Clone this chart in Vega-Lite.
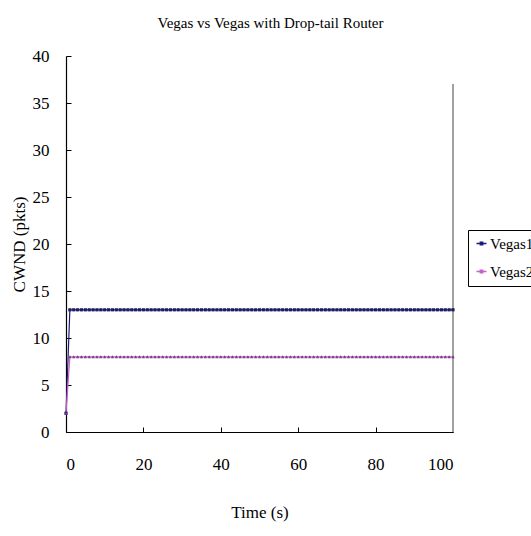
{
  "$schema": "https://vega.github.io/schema/vega-lite/v6.json",
  "width": 387,
  "height": 376,
  "autosize": {"type": "none"},
  "padding": {"left": 66, "top": 56, "right": 78, "bottom": 104},
  "background": "white",
  "config": {
    "font": "Liberation Serif",
    "view": {"stroke": null},
    "axis": {"grid": false, "domainColor": "#000000", "tickColor": "#000000", "labelColor": "#000000", "titleColor": "#000000", "labelFont": "Liberation Serif", "titleFont": "Liberation Serif", "titleFontWeight": "normal", "labelFontSize": 17, "titleFontSize": 17}
  },
  "title": {"text": "Vegas vs Vegas with Drop-tail Router", "font": "Liberation Serif", "fontSize": 15, "fontWeight": "normal", "color": "#000000", "anchor": "middle", "offset": 16, "dx": 11},
  "data": {"values": [
    {"t":0,"Vegas1":2,"Vegas2":2},{"t":1,"Vegas1":13,"Vegas2":8},{"t":2,"Vegas1":13,"Vegas2":8},{"t":3,"Vegas1":13,"Vegas2":8},{"t":4,"Vegas1":13,"Vegas2":8},{"t":5,"Vegas1":13,"Vegas2":8},{"t":6,"Vegas1":13,"Vegas2":8},{"t":7,"Vegas1":13,"Vegas2":8},{"t":8,"Vegas1":13,"Vegas2":8},{"t":9,"Vegas1":13,"Vegas2":8},
    {"t":10,"Vegas1":13,"Vegas2":8},{"t":11,"Vegas1":13,"Vegas2":8},{"t":12,"Vegas1":13,"Vegas2":8},{"t":13,"Vegas1":13,"Vegas2":8},{"t":14,"Vegas1":13,"Vegas2":8},{"t":15,"Vegas1":13,"Vegas2":8},{"t":16,"Vegas1":13,"Vegas2":8},{"t":17,"Vegas1":13,"Vegas2":8},{"t":18,"Vegas1":13,"Vegas2":8},{"t":19,"Vegas1":13,"Vegas2":8},
    {"t":20,"Vegas1":13,"Vegas2":8},{"t":21,"Vegas1":13,"Vegas2":8},{"t":22,"Vegas1":13,"Vegas2":8},{"t":23,"Vegas1":13,"Vegas2":8},{"t":24,"Vegas1":13,"Vegas2":8},{"t":25,"Vegas1":13,"Vegas2":8},{"t":26,"Vegas1":13,"Vegas2":8},{"t":27,"Vegas1":13,"Vegas2":8},{"t":28,"Vegas1":13,"Vegas2":8},{"t":29,"Vegas1":13,"Vegas2":8},
    {"t":30,"Vegas1":13,"Vegas2":8},{"t":31,"Vegas1":13,"Vegas2":8},{"t":32,"Vegas1":13,"Vegas2":8},{"t":33,"Vegas1":13,"Vegas2":8},{"t":34,"Vegas1":13,"Vegas2":8},{"t":35,"Vegas1":13,"Vegas2":8},{"t":36,"Vegas1":13,"Vegas2":8},{"t":37,"Vegas1":13,"Vegas2":8},{"t":38,"Vegas1":13,"Vegas2":8},{"t":39,"Vegas1":13,"Vegas2":8},
    {"t":40,"Vegas1":13,"Vegas2":8},{"t":41,"Vegas1":13,"Vegas2":8},{"t":42,"Vegas1":13,"Vegas2":8},{"t":43,"Vegas1":13,"Vegas2":8},{"t":44,"Vegas1":13,"Vegas2":8},{"t":45,"Vegas1":13,"Vegas2":8},{"t":46,"Vegas1":13,"Vegas2":8},{"t":47,"Vegas1":13,"Vegas2":8},{"t":48,"Vegas1":13,"Vegas2":8},{"t":49,"Vegas1":13,"Vegas2":8},
    {"t":50,"Vegas1":13,"Vegas2":8},{"t":51,"Vegas1":13,"Vegas2":8},{"t":52,"Vegas1":13,"Vegas2":8},{"t":53,"Vegas1":13,"Vegas2":8},{"t":54,"Vegas1":13,"Vegas2":8},{"t":55,"Vegas1":13,"Vegas2":8},{"t":56,"Vegas1":13,"Vegas2":8},{"t":57,"Vegas1":13,"Vegas2":8},{"t":58,"Vegas1":13,"Vegas2":8},{"t":59,"Vegas1":13,"Vegas2":8},
    {"t":60,"Vegas1":13,"Vegas2":8},{"t":61,"Vegas1":13,"Vegas2":8},{"t":62,"Vegas1":13,"Vegas2":8},{"t":63,"Vegas1":13,"Vegas2":8},{"t":64,"Vegas1":13,"Vegas2":8},{"t":65,"Vegas1":13,"Vegas2":8},{"t":66,"Vegas1":13,"Vegas2":8},{"t":67,"Vegas1":13,"Vegas2":8},{"t":68,"Vegas1":13,"Vegas2":8},{"t":69,"Vegas1":13,"Vegas2":8},
    {"t":70,"Vegas1":13,"Vegas2":8},{"t":71,"Vegas1":13,"Vegas2":8},{"t":72,"Vegas1":13,"Vegas2":8},{"t":73,"Vegas1":13,"Vegas2":8},{"t":74,"Vegas1":13,"Vegas2":8},{"t":75,"Vegas1":13,"Vegas2":8},{"t":76,"Vegas1":13,"Vegas2":8},{"t":77,"Vegas1":13,"Vegas2":8},{"t":78,"Vegas1":13,"Vegas2":8},{"t":79,"Vegas1":13,"Vegas2":8},
    {"t":80,"Vegas1":13,"Vegas2":8},{"t":81,"Vegas1":13,"Vegas2":8},{"t":82,"Vegas1":13,"Vegas2":8},{"t":83,"Vegas1":13,"Vegas2":8},{"t":84,"Vegas1":13,"Vegas2":8},{"t":85,"Vegas1":13,"Vegas2":8},{"t":86,"Vegas1":13,"Vegas2":8},{"t":87,"Vegas1":13,"Vegas2":8},{"t":88,"Vegas1":13,"Vegas2":8},{"t":89,"Vegas1":13,"Vegas2":8},
    {"t":90,"Vegas1":13,"Vegas2":8},{"t":91,"Vegas1":13,"Vegas2":8},{"t":92,"Vegas1":13,"Vegas2":8},{"t":93,"Vegas1":13,"Vegas2":8},{"t":94,"Vegas1":13,"Vegas2":8},{"t":95,"Vegas1":13,"Vegas2":8},{"t":96,"Vegas1":13,"Vegas2":8},{"t":97,"Vegas1":13,"Vegas2":8},{"t":98,"Vegas1":13,"Vegas2":8},{"t":99,"Vegas1":13,"Vegas2":8},
    {"t":100,"Vegas1":13,"Vegas2":8}
  ]},
  "transform": [{"fold": ["Vegas1", "Vegas2"], "as": ["series", "cwnd"]}],
  "layer": [
    {
      "mark": {"type": "rule", "color": "#a0a0a0", "strokeWidth": 1.5},
      "encoding": {"x": {"datum": 100}, "y": {"datum": 0}, "y2": {"datum": 37}}
    },
    {
      "mark": {"type": "line", "strokeWidth": 1.2},
      "encoding": {
        "x": {"field": "t", "type": "quantitative", "title": "Time (s)", "scale": {"domain": [0, 100], "nice": false},
              "axis": {"values": [0, 20, 40, 60, 80, 100], "tickSize": -5, "labelPadding": 29, "titlePadding": 32, "domainWidth": 1.2, "labelFont": "Liberation Serif", "titleFont": "Liberation Serif"}},
        "y": {"field": "cwnd", "type": "quantitative", "title": "CWND (pkts)", "scale": {"domain": [0, 40], "nice": false},
              "axis": {"values": [0, 5, 10, 15, 20, 25, 30, 35, 40], "tickSize": -5, "labelPadding": 22, "titlePadding": 4, "domainWidth": 1.2, "labelFont": "Liberation Serif", "titleFont": "Liberation Serif"}},
        "color": {"field": "series", "type": "nominal", "title": null,
                  "scale": {"domain": ["Vegas1", "Vegas2"], "range": ["#1c1c78", "#c860c8"]},
                  "legend": {"orient": "none", "legendX": 402, "legendY": 174, "strokeColor": "#000000", "fillColor": "#ffffff", "padding": 6, "labelFontSize": 15, "labelFont": "Liberation Serif", "labelColor": "#000000", "rowPadding": 12, "symbolType": "M-1,0H1M-0.25,-0.25H0.25V0.25H-0.25Z", "symbolSize": 100, "symbolStrokeWidth": 1.3, "labelOffset": 1}}
      }
    },
    {
      "transform": [{"filter": "datum.series === 'Vegas1'"}],
      "mark": {"type": "point", "filled": true, "size": 10, "opacity": 1, "shape": "square", "color": "#1c1c60"},
      "encoding": {
        "x": {"field": "t", "type": "quantitative"},
        "y": {"field": "cwnd", "type": "quantitative"}
      }
    },
    {
      "transform": [{"filter": "datum.series === 'Vegas2'"}],
      "mark": {"type": "point", "filled": true, "size": 12, "opacity": 1, "shape": "triangle-up", "color": "#7a3a8e"},
      "encoding": {
        "x": {"field": "t", "type": "quantitative"},
        "y": {"field": "cwnd", "type": "quantitative"}
      }
    }
  ]
}
